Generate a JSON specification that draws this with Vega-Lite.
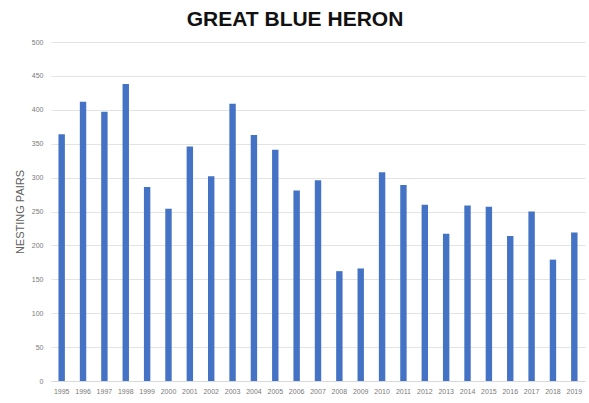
{
  "$schema": "https://vega.github.io/schema/vega-lite/v6.json",
  "autosize": "none",
  "width": 534,
  "height": 339,
  "padding": {"left": 51, "top": 42, "right": 4, "bottom": 22},
  "background": "white",
  "title": {
    "text": "GREAT BLUE HERON",
    "font": "Liberation Sans",
    "fontSize": 21,
    "fontWeight": "bold",
    "color": "#111111",
    "anchor": "middle",
    "dx": -23,
    "dy": 24,
    "baseline": "alphabetic",
    "offset": 15
  },
  "data": {
    "values": [
      {"year": "1995", "pairs": 364},
      {"year": "1996", "pairs": 412},
      {"year": "1997", "pairs": 397},
      {"year": "1998", "pairs": 438},
      {"year": "1999", "pairs": 286},
      {"year": "2000", "pairs": 254},
      {"year": "2001", "pairs": 346},
      {"year": "2002", "pairs": 302},
      {"year": "2003", "pairs": 409},
      {"year": "2004", "pairs": 363},
      {"year": "2005", "pairs": 341},
      {"year": "2006", "pairs": 281},
      {"year": "2007", "pairs": 296},
      {"year": "2008", "pairs": 162},
      {"year": "2009", "pairs": 166},
      {"year": "2010", "pairs": 308},
      {"year": "2011", "pairs": 289},
      {"year": "2012", "pairs": 260},
      {"year": "2013", "pairs": 217},
      {"year": "2014", "pairs": 259},
      {"year": "2015", "pairs": 257},
      {"year": "2016", "pairs": 214},
      {"year": "2017", "pairs": 250},
      {"year": "2018", "pairs": 179},
      {"year": "2019", "pairs": 219}
    ]
  },
  "mark": {"type": "bar", "color": "#4472C4"},
  "encoding": {
    "x": {
      "field": "year",
      "type": "ordinal",
      "scale": {"paddingInner": 0.7, "paddingOuter": 0.35},
      "axis": {
        "title": null,
        "labelAngle": 0,
        "labelFont": "Liberation Sans",
        "labelFontSize": 7,
        "labelColor": "#7a7a7a",
        "labelPadding": 6,
        "ticks": false,
        "domain": true,
        "domainColor": "#d9d9d9"
      }
    },
    "y": {
      "field": "pairs",
      "type": "quantitative",
      "scale": {"domain": [0, 500], "nice": false},
      "axis": {
        "title": "NESTING PAIRS",
        "titleFont": "Liberation Sans",
        "titleFontSize": 11,
        "titleFontWeight": "normal",
        "titleColor": "#606060",
        "titleX": -31,
        "titleY": 169.5,
        "titleAngle": -90,
        "titleAlign": "center",
        "titleBaseline": "middle",
        "values": [0, 50, 100, 150, 200, 250, 300, 350, 400, 450, 500],
        "labelFont": "Liberation Sans",
        "labelFontSize": 7,
        "labelColor": "#7a7a7a",
        "labelPadding": 8,
        "ticks": false,
        "domain": false,
        "grid": true,
        "gridColor": "#e3e3e3",
        "gridWidth": 1
      }
    }
  },
  "config": {"view": {"stroke": null}}
}
